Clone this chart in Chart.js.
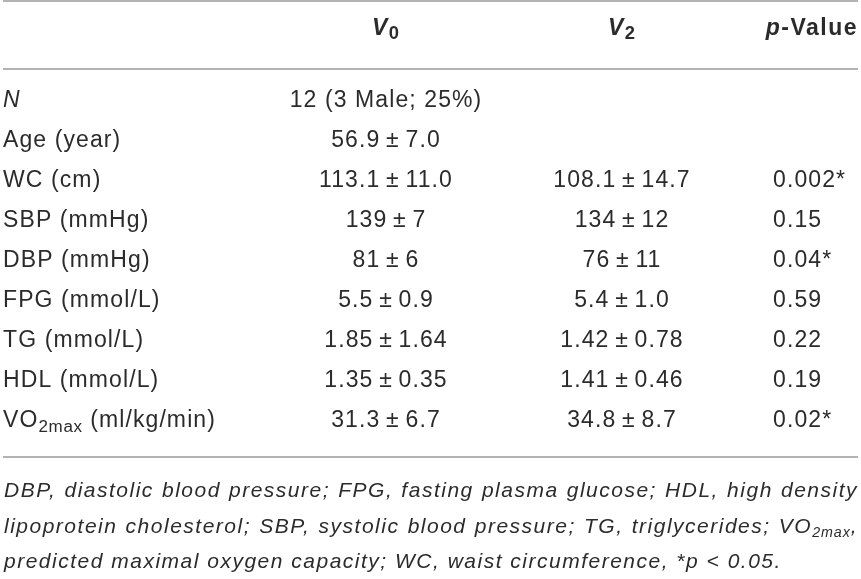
<!DOCTYPE html>
<html>
<head>
<meta charset="utf-8">
<title>V0 / V2 table</title>
<script src="https://cdn.jsdelivr.net/npm/chart.js@4.4.1/dist/chart.umd.min.js"></script>
<style>
  html, body { margin: 0; padding: 0; background: #fff; }
  #wrap { width: 861px; height: 579px; position: relative; }
</style>
</head>
<body>
<div id="wrap"><canvas id="tbl"></canvas></div>
<script>
// table content (simple tags: <i>, <b>, <sub>)
const headers = ['', '<i>V</i><sub>0</sub>', '<i>V</i><sub>2</sub>', '<i>p</i>-Value'];
const rowLabels = ['<i>N</i>', 'Age (year)', 'WC (cm)', 'SBP (mmHg)', 'DBP (mmHg)',
                   'FPG (mmol/L)', 'TG (mmol/L)', 'HDL (mmol/L)', 'VO<sub>2max</sub> (ml/kg/min)'];
const v0Values = ['12 (3 Male; 25%)', '56.9\u2009±\u20097.0', '113.1\u2009±\u200911.0', '139\u2009±\u20097', '81\u2009±\u20096',
                  '5.5\u2009±\u20090.9', '1.85\u2009±\u20091.64', '1.35\u2009±\u20090.35', '31.3\u2009±\u20096.7'];
const v2Values = ['', '', '108.1\u2009±\u200914.7', '134\u2009±\u200912', '76\u2009±\u200911',
                  '5.4\u2009±\u20091.0', '1.42\u2009±\u20090.78', '1.41\u2009±\u20090.46', '34.8\u2009±\u20098.7'];
const pValues = ['', '', '0.002*', '0.15', '0.04*', '0.59', '0.22', '0.19', '0.02*'];
const footLines = [
    'DBP, diastolic blood pressure; FPG, fasting plasma glucose; HDL, high density',
    'lipoprotein cholesterol; SBP, systolic blood pressure; TG, triglycerides; VO<sub>2max</sub>,',
    'predicted maximal oxygen capacity; WC, waist circumference, *<i>p</i> < 0.05.'
];

// layout, in scale units (x: columns, y: row index)
const colX = { label: 3, v0: 386, v2: 622, p: 773, right: 858 };
const rowY = { topRule: -2.67, header: -1.82, headRule: -0.965, bottomRule: 8.76, foot: [9.76, 10.66, 11.54] };

const bodyFont = { family: '"Liberation Sans"', weight: 'normal', size: 23, italic: false, spacing: 1.1, subScale: 0.74, subDrop: 0.24 };
const headFont = { family: '"Liberation Sans"', weight: 'bold', size: 23, italic: false, spacing: 1.5, subScale: 0.8, subDrop: 0.2 };
const footFont = { family: '"Liberation Sans"', weight: 'normal', size: 21, italic: true, spacing: 1.5, subScale: 0.68, subDrop: 0.22 };
const inkColor = '#2b2b2b';
const ruleColor = '#b3b3b3';

function parseRich(str) {
    const runs = [];
    let it = false, bd = false, sub = false;
    str.split(/(<\/?(?:i|b|sub)>)/).forEach(tok => {
        if (tok === '<i>') it = true;
        else if (tok === '</i>') it = false;
        else if (tok === '<b>') bd = true;
        else if (tok === '</b>') bd = false;
        else if (tok === '<sub>') sub = true;
        else if (tok === '</sub>') sub = false;
        else if (tok) runs.push({ text: tok, it, bd, sub });
    });
    return runs;
}

function setFont(ctx, run, base) {
    const size = run.sub ? base.size * base.subScale : base.size;
    const style = (run.it || base.italic) ? 'italic ' : '';
    const weight = run.bd ? 'bold' : base.weight;
    ctx.font = `${style}${weight} ${size}px ${base.family}`;
    ctx.letterSpacing = (run.sub ? base.spacing * 0.6 : base.spacing) + 'px';
}

function runsWidth(ctx, runs, base) {
    let w = 0;
    runs.forEach(r => { setFont(ctx, r, base); w += ctx.measureText(r.text).width; });
    return w;
}

function drawRuns(ctx, runs, base, x, y, align) {
    const w = runsWidth(ctx, runs, base);
    let cx = align === 'center' ? x - w / 2 : (align === 'right' ? x - w : x);
    ctx.textAlign = 'left';
    ctx.textBaseline = 'alphabetic';
    runs.forEach(r => {
        setFont(ctx, r, base);
        const dy = r.sub ? base.size * base.subDrop : 0;
        ctx.fillText(r.text, cx, y + dy);
        cx += ctx.measureText(r.text).width;
    });
}

// split runs into words (keeps the styles) for justified lines
function splitWords(runs) {
    const words = [[]];
    runs.forEach(r => {
        r.text.split(' ').forEach((piece, k) => {
            if (k > 0) words.push([]);
            if (piece) words[words.length - 1].push({ ...r, text: piece });
        });
    });
    return words.filter(w => w.length);
}

function drawJustified(ctx, runs, base, x0, x1, y) {
    const words = splitWords(runs);
    const widths = words.map(w => runsWidth(ctx, w, base));
    const total = widths.reduce((a, b) => a + b, 0);
    const gap = (x1 - x0 - total) / (words.length - 1);
    let cx = x0;
    words.forEach((w, i) => {
        drawRuns(ctx, w, base, cx, y, 'left');
        cx += widths[i] + gap;
    });
}

const tablePlugin = {
    id: 'tableText',
    afterDraw(chart) {
        const { ctx, scales: { x, y } } = chart;
        ctx.save();

        // rules
        ctx.strokeStyle = ruleColor;
        ctx.lineWidth = 2;
        [rowY.topRule, rowY.headRule, rowY.bottomRule].forEach(v => {
            const py = Math.round(y.getPixelForValue(v));
            ctx.beginPath();
            ctx.moveTo(x.getPixelForValue(colX.label), py);
            ctx.lineTo(x.getPixelForValue(colX.right), py);
            ctx.stroke();
        });

        ctx.fillStyle = inkColor;

        // header
        const hy = y.getPixelForValue(rowY.header);
        drawRuns(ctx, parseRich(headers[1]), headFont, x.getPixelForValue(colX.v0), hy, 'center');
        drawRuns(ctx, parseRich(headers[2]), headFont, x.getPixelForValue(colX.v2), hy, 'center');
        drawRuns(ctx, parseRich(headers[3]), headFont, x.getPixelForValue(colX.right), hy, 'right');

        // body rows
        rowLabels.forEach((lab, i) => {
            const py = y.getPixelForValue(i);
            drawRuns(ctx, parseRich(lab), bodyFont, x.getPixelForValue(colX.label), py, 'left');
            if (v0Values[i]) drawRuns(ctx, parseRich(v0Values[i]), bodyFont, x.getPixelForValue(colX.v0), py, 'center');
            if (v2Values[i]) drawRuns(ctx, parseRich(v2Values[i]), bodyFont, x.getPixelForValue(colX.v2), py, 'center');
            if (pValues[i]) drawRuns(ctx, parseRich(pValues[i]), bodyFont, x.getPixelForValue(colX.p), py, 'left');
        });

        // footnote
        footLines.forEach((line, i) => {
            const py = y.getPixelForValue(rowY.foot[i]);
            const runs = parseRich(line);
            if (i < footLines.length - 1) {
                drawJustified(ctx, runs, footFont, x.getPixelForValue(colX.label + 1), x.getPixelForValue(colX.right), py);
            } else {
                drawRuns(ctx, runs, footFont, x.getPixelForValue(colX.label + 1), py, 'left');
            }
        });

        ctx.restore();
    }
};

const ctx = document.getElementById('tbl').getContext('2d');
new Chart(ctx, {
    type: 'scatter',
    data: { datasets: [{ data: [], pointRadius: 0 }] },
    options: {
        responsive: true,
        maintainAspectRatio: false,
        animation: false,
        layout: { padding: 0 },
        plugins: { legend: { display: false }, tooltip: { enabled: false } },
        scales: {
            x: { type: 'linear', display: false, min: 0, max: 861 },
            y: { type: 'linear', display: false, reverse: true, min: -2.694, max: 11.817 }
        }
    },
    plugins: [tablePlugin]
});
</script>
</body>
</html>
